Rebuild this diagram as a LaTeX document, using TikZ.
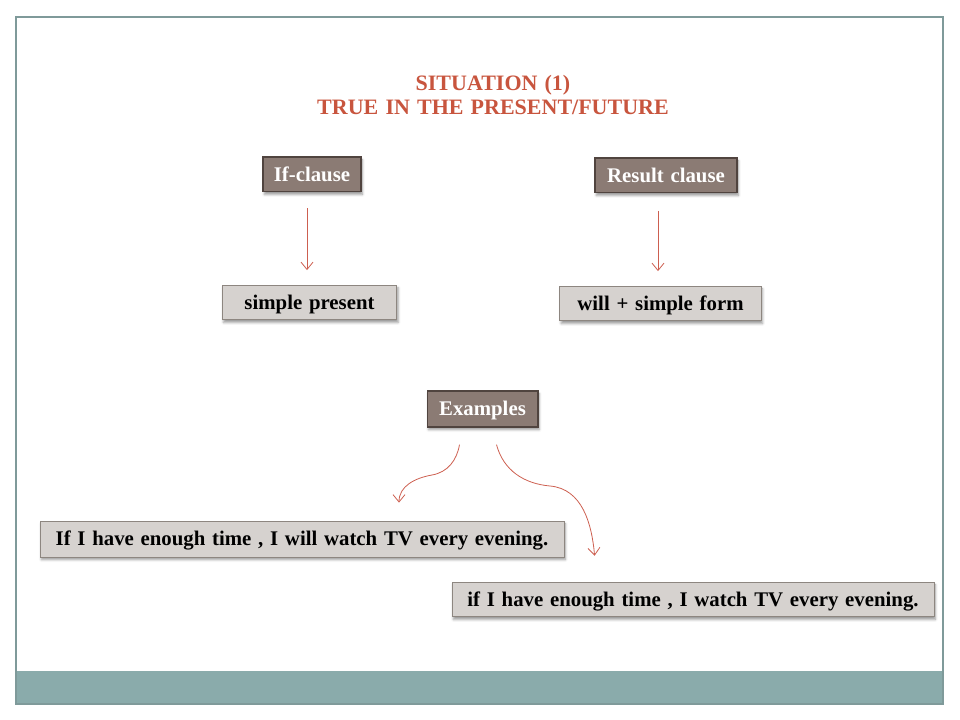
\documentclass[tikz,border=0pt]{standalone}
\usepackage{fontspec}
\setmainfont{Liberation Serif}[WordSpace=1.3]
\usepackage{xcolor}
\usepackage{tikz}
\usetikzlibrary{arrows.meta,calc,shadows.blur}

\definecolor{titlered}{RGB}{200,85,62}
\definecolor{arrowred}{RGB}{205,95,80}
\definecolor{darkbox}{RGB}{139,123,116}
\definecolor{darkline}{RGB}{80,68,63}
\definecolor{lightbox}{RGB}{214,210,207}
\definecolor{lightline}{RGB}{141,134,128}
\definecolor{framecol}{RGB}{127,154,154}
\definecolor{bandcol}{RGB}{138,171,171}

\tikzset{
  headbox/.style={draw=darkline, line width=1pt, fill=darkbox, text=white,
    font=\bfseries\fontsize{15.6}{18}\selectfont, inner sep=0pt,
    text height=10.9pt, text depth=0.6pt,
    blur shadow={shadow xshift=1pt, shadow yshift=-2pt, shadow opacity=40}},
  infobox/.style={draw=lightline, line width=0.6pt, fill=lightbox, text=black,
    font=\bfseries\fontsize{15.6}{18}\selectfont, inner sep=0pt,
    text height=10.9pt, text depth=0.6pt,
    blur shadow={shadow xshift=1pt, shadow yshift=-2pt, shadow opacity=40}},
  link/.style={draw=arrowred, line width=0.6pt, -{Straight Barb[length=5.5pt,width=9pt]}}
}

\begin{document}
\begin{tikzpicture}[x=0.75pt, y=-0.75pt]
    \useasboundingbox (0,0) rectangle (960,720);

    % slide frame
    \fill[bandcol] (16,671) rectangle (943,704);
    \draw[framecol, line width=1.2pt] (16,17) rectangle (943,704);

    % title
    \node[text=titlered, font=\bfseries\fontsize{16.5}{18}\selectfont, align=center] (title) at (493,95)
        {SITUATION (1)\\TRUE IN THE PRESENT/FUTURE};

    % clauses
    \node[headbox, minimum width=73.5pt, minimum height=26pt] (ifc) at (312,174.5) {If-clause};
    \node[headbox, minimum width=106.5pt, minimum height=26pt] (res) at (666,175.5) {Result clause};
    \node[infobox, minimum width=131pt, minimum height=26pt] (simp) at (309.5,302.5) {simple present};
    \node[infobox, minimum width=151pt, minimum height=26pt] (will) at (660.5,303.5) {will + simple form};

    \draw[link] ([xshift=-3.75pt, yshift=-12pt]ifc.south) -- ([xshift=-3.75pt, yshift=11pt]ifc.south |- simp.north);
    \draw[link] ([xshift=-6pt, yshift=-13pt]res.south) -- ([xshift=-6pt, yshift=11pt]res.south |- will.north);

    % examples
    \node[headbox, minimum width=83pt, minimum height=27pt] (examples) at (482.5,409) {Examples};
    \node[infobox, minimum width=393pt, minimum height=27pt] (exone) at (302,539)
        {If I have enough time , I will watch TV every evening.};
    \node[infobox, minimum width=361.5pt, minimum height=26pt] (extwo) at (693,599.5)
        {if I have enough time , I watch TV every evening.};

    \coordinate (lstart) at ($(examples.south)+(-23,17)$);
    \coordinate (lmid) at (432,475);
    \coordinate (rstart) at ($(examples.south)+(14,17)$);
    \coordinate (rmid) at (550,486);
    \draw[link] (lstart) to[out=-100, in=10] (lmid) to[out=190, in=90] ($(exone.north)+(97,-18)$);
    \draw[link] (rstart) to[out=-75, in=175] (rmid) to[out=-5, in=95] ($(extwo.north west)+(143,-26)$);
\end{tikzpicture}
\end{document}
